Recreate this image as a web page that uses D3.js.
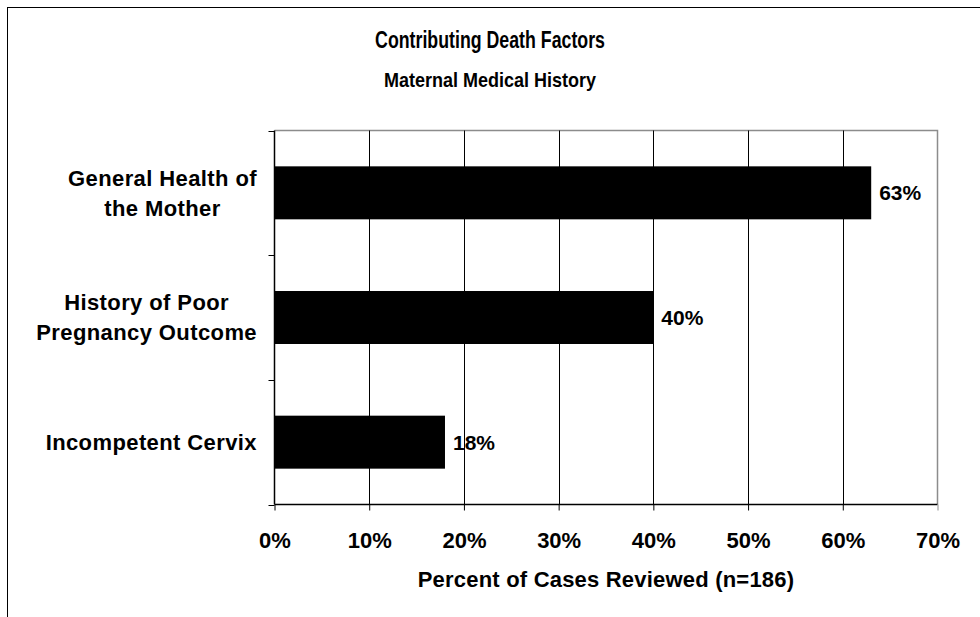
<!DOCTYPE html>
<html>
<head>
<meta charset="utf-8">
<script src="https://cdn.jsdelivr.net/npm/d3@7"></script>
<style>
  html, body { margin: 0; padding: 0; background: #fff; }
  svg { display: block; font-family: "Liberation Sans", Arial, sans-serif; font-weight: bold; }
</style>
</head>
<body>
<svg id="chart" width="980" height="617"></svg>
<script>
const categories = [
  ["General Health of", "the Mother"],
  ["History of Poor", "Pregnancy Outcome"],
  ["Incompetent Cervix"]
];
const values = [63, 40, 18];
const xTicks = [0, 10, 20, 30, 40, 50, 60, 70];
const title = "Contributing Death Factors";
const subtitle = "Maternal Medical History";
const xTitle = "Percent of Cases Reviewed (n=186)";

const svg = d3.select("#chart");
const plot = { left: 274.5, top: 130.5, right: 937.5, bottom: 504.5 };

// outer border (extends past the window on right/bottom)
svg.append("rect")
  .attr("x", 7.5).attr("y", 7.5).attr("width", 1100).attr("height", 800)
  .attr("fill", "#fff").attr("stroke", "#000").attr("stroke-width", 1);

const x = d3.scaleLinear().domain([0, 70]).range([plot.left, plot.right]);
const idx = categories.map((d, i) => i);
const y = d3.scaleBand().domain(idx).range([plot.top, plot.bottom]).paddingInner(0.575).paddingOuter(0.2875);
const yBound = d3.scaleLinear().domain([0, categories.length]).range([plot.top, plot.bottom]);

// plot frame top & right (gray)
svg.append("path")
  .attr("d", `M${plot.left},${plot.top}H${plot.right}V${plot.bottom}`)
  .attr("fill", "none").attr("stroke", "#8c8c8c").attr("stroke-width", 1.5);

// gridlines
svg.append("g").selectAll("line")
  .data(xTicks.filter(t => t > 0 && t < 70))
  .join("line")
  .attr("x1", d => Math.round(x(d)) + 0.5).attr("x2", d => Math.round(x(d)) + 0.5)
  .attr("y1", plot.top).attr("y2", plot.bottom)
  .attr("stroke", "#000").attr("stroke-width", 1);

// bars
svg.append("g").selectAll("rect")
  .data(values)
  .join("rect")
  .attr("x", x(0))
  .attr("y", (d, i) => y(i))
  .attr("width", d => x(d) - x(0))
  .attr("height", y.bandwidth())
  .attr("fill", "#000");

// value labels
svg.append("g").selectAll("text")
  .data(values)
  .join("text")
  .attr("x", d => x(d) + 8)
  .attr("y", (d, i) => y(i) + y.bandwidth() / 2)
  .attr("dy", "0.35em")
  .attr("font-size", 21)
  .text(d => d + "%");

// x axis
const xAxis = d3.axisBottom(x).tickValues(xTicks).tickSize(6).tickFormat(d => d + "%");
const gx = svg.append("g").attr("transform", `translate(0,${plot.bottom})`).call(xAxis);
gx.select(".domain").attr("stroke", "#000").attr("stroke-width", 1.5)
  .attr("d", `M${plot.left},0H${plot.right}`);
gx.selectAll(".tick line").attr("stroke", "#000");
gx.selectAll(".tick text")
  .attr("font-family", "Liberation Sans, Arial, sans-serif")
  .attr("font-weight", "bold")
  .attr("font-size", 22)
  .attr("fill", "#000")
  .attr("y", 28)
  .attr("dy", "0.71em");
gx.selectAll(".tick:last-of-type line").attr("stroke", "#8c8c8c");

// y axis line & ticks at band boundaries
svg.append("line")
  .attr("x1", plot.left).attr("x2", plot.left)
  .attr("y1", plot.top).attr("y2", plot.bottom)
  .attr("stroke", "#000").attr("stroke-width", 1.5);
svg.append("g").selectAll("line")
  .data(d3.range(categories.length + 1))
  .join("line")
  .attr("x1", plot.left - 6).attr("x2", plot.left)
  .attr("y1", d => Math.round(yBound(d)) + 0.5).attr("y2", d => Math.round(yBound(d)) + 0.5)
  .attr("stroke", "#000").attr("stroke-width", 1);

// category labels: lines centred on each other, block right-aligned
const lineH = 30;
const labelRight = 257;
const catG = svg.append("g");
categories.forEach((lines, i) => {
  const cy = y(i) + y.bandwidth() / 2;
  const t = catG.append("text")
    .attr("text-anchor", "middle")
    .attr("font-size", 22)
    .attr("letter-spacing", 0.4);
  const spans = lines.map((ln, j) =>
    t.append("tspan")
      .attr("y", cy + (j - (lines.length - 1) / 2) * lineH)
      .attr("dy", "0.35em")
      .text(ln));
  const maxW = d3.max(spans, s => s.node().getComputedTextLength());
  spans.forEach(s => s.attr("x", labelRight - maxW / 2));
});

// titles (condensed as in the reference)
svg.append("text")
  .attr("transform", "translate(490,40) scale(0.74,1)")
  .attr("dy", "0.35em")
  .attr("text-anchor", "middle")
  .attr("font-size", 24)
  .text(title);
svg.append("text")
  .attr("transform", "translate(490,80) scale(0.9,1)")
  .attr("dy", "0.35em")
  .attr("text-anchor", "middle")
  .attr("font-size", 20)
  .text(subtitle);

// x axis title
svg.append("text")
  .attr("x", (plot.left + plot.right) / 2).attr("y", 579).attr("dy", "0.35em")
  .attr("text-anchor", "middle")
  .attr("font-size", 22)
  .attr("letter-spacing", 0.2)
  .text(xTitle);
</script>
</body>
</html>
